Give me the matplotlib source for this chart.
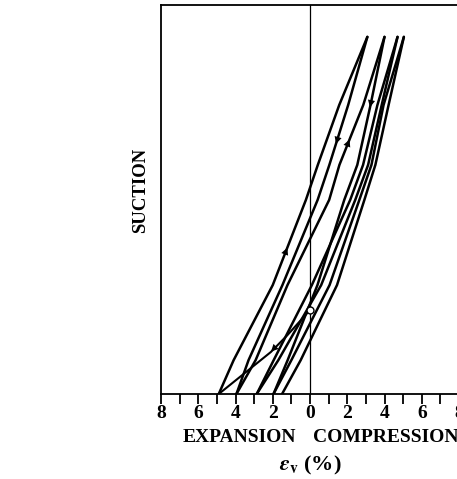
import matplotlib
matplotlib.use('Agg')
from matplotlib import pyplot as plt
import numpy as np

plt.rcParams['font.family'] = ['Liberation Serif', 'DejaVu Serif']
plt.rcParams['font.weight'] = 'bold'
plt.rcParams['mathtext.fontset'] = 'stix'

# suction levels (fraction of axis height) where the curves were read
suction = [0, 0.087, 0.28, 0.499, 0.589, 0.743, 0.918]

# volumetric strain (%) of each drying / wetting path at those levels
path_a = [-4.9, -4.1, -2.0, -0.22, 0.42, 1.57, 3.08]
path_b = [-3.95, -3.3, -1.48, 0.41, 1.04, 2.05, 3.08]
path_c = [-3.95, -2.92, -1.21, 1.03, 1.58, 2.86, 4.0]
path_d = [-1.96, -1.2, 0.4, 1.84, 2.54, 3.25, 4.0]
path_e = [-2.86, -1.95, 0.1, 2.16, 2.85, 3.62, 4.7]
path_f = [-2.86, -1.7, 0.6, 2.43, 3.12, 3.85, 4.7]
path_g = [-1.96, -1.0, 1.05, 2.65, 3.3, 3.95, 5.04]
path_h = [-1.5, -0.5, 1.45, 2.92, 3.51, 4.22, 5.04]
paths = [path_a, path_b, path_c, path_d, path_e, path_f, path_g, path_h]

# first wetting path from the initial state
init_x = [-4.9, -2.1, -1.2, 0.0]
init_y = [0, 0.108, 0.152, 0.216]

# arrows: (path index, suction level, +1 up / -1 down)
arrows = [(0, 0.383, 1), (1, 0.636, -1), (2, 0.661, 1), (3, 0.73, -1)]

fig = plt.figure(figsize=(4.57, 4.79), dpi=100)
ax = fig.add_axes([161 / 457, 85 / 479, 298 / 457, 389 / 479])

for p in paths:
    ax.plot(p, suction, color='black', lw=1.8, solid_capstyle='round')
ax.plot(init_x, init_y, color='black', lw=1.5)
ax.plot(init_x[-1], init_y[-1], 'o', ms=5, mfc='white', mec='black', mew=1, zorder=5)

ax.axvline(0, color='black', lw=0.9)

for i, yy, d in arrows:
    p = paths[i]
    x1 = np.interp(yy, suction, p)
    x0 = np.interp(yy - 0.03 * d, suction, p)
    ax.annotate('', xy=(x1, yy), xytext=(x0, yy - 0.03 * d),
                arrowprops=dict(arrowstyle='-|>', color='black', lw=0, mutation_scale=13))
# arrow on initial path
ax.annotate('', xy=(-2.2, 0.104), xytext=(-1.6, 0.133),
            arrowprops=dict(arrowstyle='-|>', color='black', lw=0, mutation_scale=13))

ax.set_xlim(-8, 8)
ax.set_ylim(0, 1)
ax.set_xticks(range(-8, 9, 2))
ax.set_xticklabels([str(abs(v)) for v in range(-8, 9, 2)], fontsize=14, fontweight='bold')
ax.set_xticks(range(-7, 8, 2), minor=True)
ax.tick_params(axis='x', which='both', direction='out', length=7, width=1.3, pad=1)
ax.set_yticks([])
for s in ax.spines.values():
    s.set_linewidth(1.3)

ax.text(-0.75, -0.113, 'EXPANSION', transform=ax.get_xaxis_transform(),
        ha='right', va='center', fontsize=14, fontweight='bold')
ax.text(0.15, -0.113, 'COMPRESSION', transform=ax.get_xaxis_transform(),
        ha='left', va='center', fontsize=14, fontweight='bold')
ax.text(0, -0.183, r'$\varepsilon_{\mathbf{v}}$ (%)', transform=ax.get_xaxis_transform(),
        ha='center', va='center', fontsize=16, fontweight='bold')
ax.set_ylabel('SUCTION', fontsize=13.5, fontweight='bold')
ax.yaxis.set_label_coords(-0.04, 0.524)

plt.savefig('out.png', dpi=100)
